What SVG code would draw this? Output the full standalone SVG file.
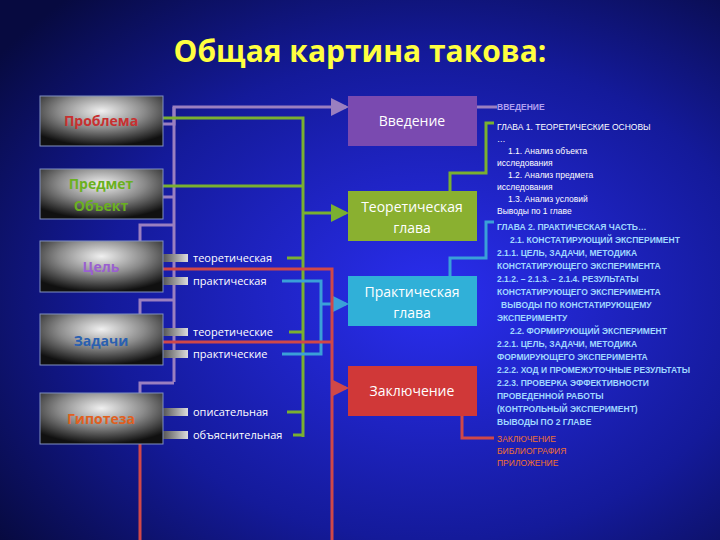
<svg xmlns="http://www.w3.org/2000/svg" width="720" height="540" viewBox="0 0 720 540">
<defs>
<radialGradient id="bg" cx="0.6" cy="0.55" r="0.75"><stop offset="0" stop-color="#2a2ef0"/><stop offset="0.6" stop-color="#141a9a"/><stop offset="1" stop-color="#070a40"/></radialGradient>
<radialGradient id="gb" cx="0.5" cy="0.3" r="0.7"><stop offset="0" stop-color="#f0f0f0"/><stop offset="0.5" stop-color="#8a8a8a"/><stop offset="1" stop-color="#101010"/></radialGradient>
<linearGradient id="stub" x1="0" x2="1"><stop offset="0" stop-color="#555"/><stop offset="1" stop-color="#ddd"/></linearGradient>
<marker id="ap" markerWidth="6" markerHeight="6" refX="5" refY="3" orient="auto"><path d="M0,0L6,3L0,6z" fill="#9a7fc0"/></marker>
<marker id="ag" markerWidth="6" markerHeight="6" refX="5" refY="3" orient="auto"><path d="M0,0L6,3L0,6z" fill="#7ab030"/></marker>
<marker id="ab" markerWidth="6" markerHeight="6" refX="5" refY="3" orient="auto"><path d="M0,0L6,3L0,6z" fill="#3aa0d8"/></marker>
<marker id="ar" markerWidth="6" markerHeight="6" refX="5" refY="3" orient="auto"><path d="M0,0L6,3L0,6z" fill="#d04848"/></marker>
</defs>
<style>
.lb{stroke:#8090c0;stroke-width:1}
.lt{font-family:"Open Sans","DejaVu Sans",sans-serif;font-size:14px;text-anchor:middle;font-weight:bold}
.rt{font-family:"Open Sans","DejaVu Sans",sans-serif;font-size:14px;text-anchor:middle;fill:#fff}
.sm{font-family:"Open Sans","DejaVu Sans",sans-serif;font-size:11px;fill:#fff}
.tx{font-family:"Liberation Sans",sans-serif;font-size:8.5px}
.p{stroke:#9a7fc0;stroke-width:3;fill:none}
.g{stroke:#7ab030;stroke-width:3;fill:none}
.b{stroke:#3aa0d8;stroke-width:3;fill:none}
.r{stroke:#d04848;stroke-width:3;fill:none}
.s{fill:url(#stub)}
</style>
<rect width="720" height="540" fill="url(#bg)"/>
<text x="360" y="62" font-family="'Open Sans','DejaVu Sans',sans-serif" font-size="30" font-weight="bold" fill="#ffff40" text-anchor="middle">Общая картина такова:</text>
<g id="connectors">
<path class="p" d="M163,124H174V107H346" marker-end="url(#ap)"/>
<path class="p" d="M174,107V382M163,197H174M140,241V225H174M140,314V300H174M140,393V383H174"/>
<path class="g" d="M163,118H303V437M163,186H303M287,258H303M289,332H303M287,412H303M293,435H303"/>
<path class="g" d="M303,213H346" marker-end="url(#ag)"/>
<path class="b" d="M282,281H321V354H282"/>
<path class="b" d="M321,304H346" marker-end="url(#ab)"/>
<path class="r" d="M163,269H332V540M163,342H332M140,444V540"/>
<path class="r" d="M332,388H346" marker-end="url(#ar)"/>
<path class="p" d="M477,107H497"/>
<path class="g" d="M450,191V173H486V123H494"/>
<path class="b" d="M450,276V258H486V222H494"/>
<path class="r" d="M462,416V438H494"/>
<rect class="s" x="163" y="254" width="25" height="8"/>
<rect class="s" x="163" y="277" width="25" height="8"/>
<rect class="s" x="163" y="328" width="25" height="8"/>
<rect class="s" x="163" y="350" width="25" height="8"/>
<rect class="s" x="163" y="408" width="25" height="8"/>
<rect class="s" x="163" y="431" width="25" height="8"/>
</g>
<g id="problema"><rect x="40" y="96" width="123" height="50" fill="url(#gb)" class="lb"/><text class="lt" x="101" y="126" fill="#c83030">Проблема</text></g>
<g id="predmet"><rect x="40" y="169" width="123" height="50" fill="url(#gb)" class="lb"/><text class="lt" x="101" y="189" fill="#6ab020">Предмет</text><text class="lt" x="101" y="211" fill="#6ab020">Объект</text></g>
<g id="cel"><rect x="40" y="241" width="123" height="51" fill="url(#gb)" class="lb"/><text class="lt" x="101" y="272" fill="#9a60d0">Цель</text></g>
<g id="zadachi"><rect x="40" y="314" width="123" height="51" fill="url(#gb)" class="lb"/><text class="lt" x="101" y="346" fill="#2a60b0">Задачи</text></g>
<g id="gipoteza"><rect x="40" y="393" width="123" height="51" fill="url(#gb)" class="lb"/><text class="lt" x="101" y="424" fill="#e06020">Гипотеза</text></g>
<g id="labels">
<text class="sm" x="193" y="262">теоретическая</text>
<text class="sm" x="193" y="285">практическая</text>
<text class="sm" x="193" y="336">теоретические</text>
<text class="sm" x="193" y="358">практические</text>
<text class="sm" x="193" y="416">описательная</text>
<text class="sm" x="193" y="439">объяснительная</text>
</g>
<g id="vvedenie"><rect x="348" y="96" width="129" height="50" fill="#7a4ab0"/><text class="rt" x="412" y="126">Введение</text></g>
<g id="teor"><rect x="348" y="191" width="129" height="50" fill="#8ab030"/><text class="rt" x="412" y="212">Теоретическая</text><text class="rt" x="412" y="233">глава</text></g>
<g id="prakt"><rect x="348" y="276" width="129" height="50" fill="#30b0d8"/><text class="rt" x="412" y="297">Практическая</text><text class="rt" x="412" y="318">глава</text></g>
<g id="zakl"><rect x="348" y="366" width="129" height="50" fill="#d03838"/><text class="rt" x="412" y="396">Заключение</text></g>
<g id="outline" class="tx">
<text x="497" y="110" fill="#b0a0f0" font-weight="bold">ВВЕДЕНИЕ</text>
<g fill="#fff"><text x="497" y="130">ГЛАВА 1. ТЕОРЕТИЧЕСКИЕ ОСНОВЫ</text>
<text x="497" y="142">…</text>
<text x="508" y="154">1.1. Анализ объекта</text>
<text x="497" y="166">исследования</text>
<text x="508" y="178">1.2. Анализ предмета</text>
<text x="497" y="190">исследования</text>
<text x="508" y="202">1.3. Анализ условий</text>
<text x="497" y="214">Выводы по 1 главе</text></g>
<g fill="#a0d8ff" font-weight="bold"><text x="497" y="230">ГЛАВА 2. ПРАКТИЧЕСКАЯ ЧАСТЬ…</text>
<text x="510" y="243">2.1. КОНСТАТИРУЮЩИЙ ЭКСПЕРИМЕНТ</text>
<text x="497" y="256">2.1.1. ЦЕЛЬ, ЗАДАЧИ, МЕТОДИКА</text>
<text x="497" y="269">КОНСТАТИРУЮЩЕГО ЭКСПЕРИМЕНТА</text>
<text x="497" y="282">2.1.2. – 2.1.3. – 2.1.4. РЕЗУЛЬТАТЫ</text>
<text x="497" y="295">КОНСТАТИРУЮЩЕГО ЭКСПЕРИМЕНТА</text>
<text x="501" y="308">ВЫВОДЫ ПО КОНСТАТИРУЮЩЕМУ</text>
<text x="497" y="321">ЭКСПЕРИМЕНТУ</text>
<text x="510" y="334">2.2. ФОРМИРУЮЩИЙ ЭКСПЕРИМЕНТ</text>
<text x="497" y="347">2.2.1. ЦЕЛЬ, ЗАДАЧИ, МЕТОДИКА</text>
<text x="497" y="360">ФОРМИРУЮЩЕГО ЭКСПЕРИМЕНТА</text>
<text x="497" y="373">2.2.2. ХОД И ПРОМЕЖУТОЧНЫЕ РЕЗУЛЬТАТЫ</text>
<text x="497" y="386">2.2.3. ПРОВЕРКА ЭФФЕКТИВНОСТИ</text>
<text x="497" y="399">ПРОВЕДЕННОЙ РАБОТЫ</text>
<text x="497" y="412">(КОНТРОЛЬНЫЙ ЭКСПЕРИМЕНТ)</text>
<text x="497" y="425">ВЫВОДЫ ПО 2 ГЛАВЕ</text></g>
<g fill="#f07030"><text x="497" y="442">ЗАКЛЮЧЕНИЕ</text><text x="497" y="454">БИБЛИОГРАФИЯ</text><text x="497" y="466">ПРИЛОЖЕНИЕ</text></g>
</g>
</svg>
